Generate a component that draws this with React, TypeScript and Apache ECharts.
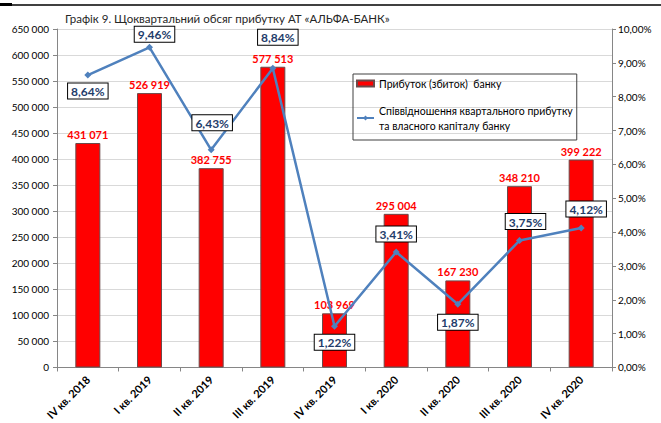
import React, { useEffect, useRef } from "react";
import * as echarts from "echarts";

const categories = [
  "IV кв. 2018",
  "I кв. 2019",
  "II кв. 2019",
  "III кв. 2019",
  "IV кв. 2019",
  "I кв. 2020",
  "II кв. 2020",
  "III кв. 2020",
  "IV кв. 2020",
];
const profit = [431071, 526919, 382755, 577513, 103969, 295004, 167230, 348210, 399222];
const ratio = [8.64, 9.46, 6.43, 8.84, 1.22, 3.41, 1.87, 3.75, 4.12];

const titleText = "Графік 9. Щоквартальний обсяг прибутку АТ «АЛЬФА-БАНК»";
const barName = "Прибуток (збиток)  банку";
const lineName = "Співвідношення квартального прибутку\nта власного капіталу банку";

// label placement for the ratio labels (style, not data)
const ratioLabelPos = ["bottom", "top", "top", "top", "bottom", "top", "bottom", "top", "top"];
const ratioLabelDist = [5, 2, 16, 20, 5, 7, 7, 8, 8];
const ratioLabelDx = [0, 5, 1, 5, 0, 0, 0, 6, 5];

const FONT = "Lato";

const fmtThousands = (v: number) =>
  String(Math.round(v)).replace(/\B(?=(\d{3})+(?!\d))/g, " ");
const fmtPct = (v: number) => v.toFixed(2).replace(".", ",") + "%";

export default function App() {
  const ref = useRef<HTMLDivElement>(null);
  useEffect(() => {
    document.body.style.margin = "0";
    if (!ref.current) return;
    const chart = echarts.init(ref.current, undefined, { renderer: "svg" });
    chart.setOption({
      animation: false,
      backgroundColor: "#ffffff",
      textStyle: { fontFamily: FONT },
      title: {
        text: titleText,
        left: 60,
        top: 7,
        textStyle: { fontFamily: FONT, fontSize: 11.5, fontWeight: "normal", color: "#262626" },
      },
      graphic: [
        { type: "line", shape: { x1: 0, y1: 5, x2: 661, y2: 5 }, style: { stroke: "#000", lineWidth: 1.5 } },
        { type: "rect", shape: { x: 0, y: 3, width: 12, height: 3 }, style: { fill: "#000" } },
      ],
      legend: {
        orient: "vertical",
        left: 353,
        top: 74,
        padding: [2, 4, 0, 3],
        borderColor: "#404040",
        borderWidth: 1,
        itemGap: 5,
        itemWidth: 17,
        itemHeight: 6,
        textStyle: { fontFamily: FONT, fontSize: 10.5, color: "#000", lineHeight: 15 },
        data: [
          { name: barName, icon: "rect" },
          { name: lineName, textStyle: { padding: [14, 0, 0, 0] } },
        ],
      },
      grid: { left: 57, right: 49, top: 29, bottom: 55 },
      xAxis: {
        type: "category",
        data: categories,
        boundaryGap: true,
        axisLine: { lineStyle: { color: "#868686" } },
        axisTick: { show: true, alignWithLabel: false, length: 4, lineStyle: { color: "#868686" } },
        axisLabel: {
          rotate: 45,
          interval: 0,
          margin: 10,
          fontFamily: FONT,
          fontSize: 11,
          fontWeight: "bold",
          color: "#000",
        },
      },
      yAxis: [
        {
          type: "value",
          min: 0,
          max: 650000,
          interval: 50000,
          axisLine: { show: true, lineStyle: { color: "#868686" } },
          axisTick: { show: true, length: 4, lineStyle: { color: "#868686" } },
          axisLabel: { fontFamily: FONT, fontSize: 10, color: "#000", margin: 8, formatter: (v: number) => fmtThousands(v) },
          splitLine: { show: true, lineStyle: { color: "#d9d9d9", width: 1 } },
        },
        {
          type: "value",
          min: 0,
          max: 10,
          interval: 1,
          position: "right",
          axisLine: { show: true, lineStyle: { color: "#868686" } },
          axisTick: { show: true, length: 4, lineStyle: { color: "#868686" } },
          axisLabel: { fontFamily: FONT, fontSize: 10, color: "#000", margin: 6, formatter: (v: number) => fmtPct(v) },
          splitLine: { show: false },
        },
      ],
      series: [
        {
          name: barName,
          type: "bar",
          yAxisIndex: 0,
          data: profit,
          barWidth: 25,
          itemStyle: { color: "#ff0000", borderColor: "#6b4a4a", borderWidth: 1 },
          label: {
            show: true,
            position: "top",
            distance: 3,
            fontFamily: FONT,
            fontSize: 11,
            fontWeight: "bold",
            color: "#ff0000",
            formatter: (p: any) => fmtThousands(p.value),
          },
          z: 2,
        },
        {
          name: lineName,
          type: "line",
          yAxisIndex: 1,
          symbol: "diamond",
          symbolSize: 7,
          lineStyle: { color: "#4f81bd", width: 2.5 },
          itemStyle: { color: "#4f81bd" },
          data: ratio.map((v, i) => ({
            value: v,
            label: {
              position: ratioLabelPos[i],
              distance: ratioLabelDist[i],
              offset: [ratioLabelDx[i], 0],
            },
          })),
          label: {
            show: true,
            fontFamily: FONT,
            fontSize: 12,
            fontWeight: "bold",
            color: "#1f3d6b",
            backgroundColor: "#ffffff",
            borderColor: "#000",
            borderWidth: 1,
            padding: [2, 3, 1, 3],
            formatter: (p: any) => fmtPct(p.value),
          },
          z: 3,
        },
      ],
    });
    return () => chart.dispose();
  }, []);
  return <div ref={ref} style={{ width: 661, height: 423 }} />;
}
